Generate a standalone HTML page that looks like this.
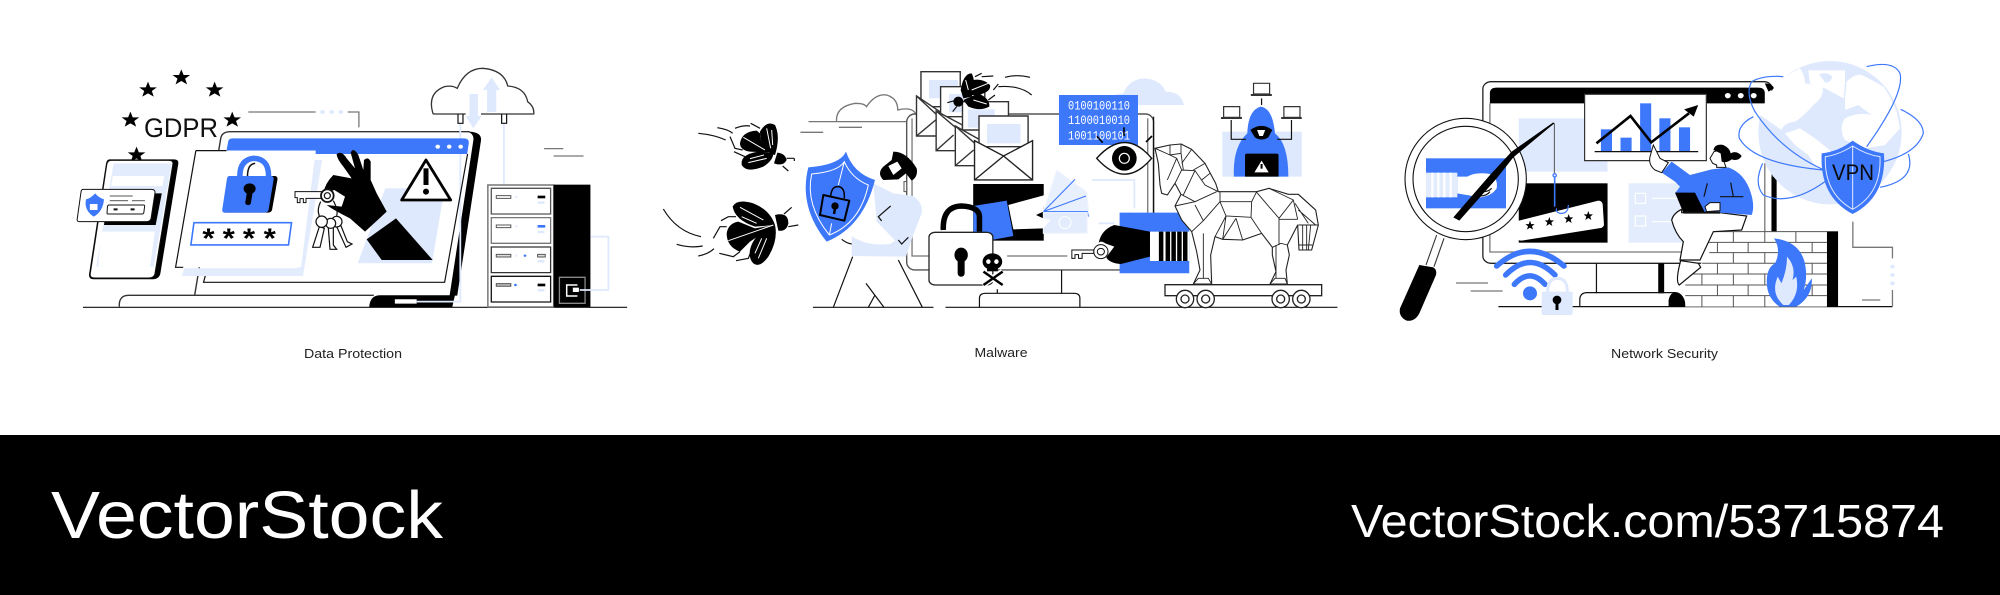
<!DOCTYPE html>
<html><head><meta charset="utf-8"><style>
html,body{margin:0;padding:0;background:#fff}
svg{display:block}
svg *{vector-effect:non-scaling-stroke}
.k{fill:none;stroke:#111;stroke-width:1.2}
.g{fill:none;stroke:#777;stroke-width:1.3}
.l{fill:none;stroke:#dfe9fd;stroke-width:1.8}
.b{fill:none;stroke:#3d78fb;stroke-width:1.2}
.w{fill:none;stroke:#fff;stroke-width:1}
.wf{fill:#fff;stroke:#111;stroke-width:1.2}
text{font-family:"Liberation Sans",sans-serif}
</style></head><body>
<svg width="2000" height="595" viewBox="0 0 2000 595" xmlns="http://www.w3.org/2000/svg">
<defs>
<polygon id="st" points="0,-25 6,-8 23,-8 10,3 15,20 0,10 -15,20 -10,3 -23,-8 -6,-8" fill="#000"/>
<clipPath id="gc"><circle cx="255" cy="233" r="215"/></clipPath>
</defs>
<rect width="2000" height="595" fill="#fff"/>

<!-- PANEL 1 -->
<g transform="translate(60,50) scale(.3827,.3333)">
<path class="k" d="M60 772H1482"/>
<use href="#st" x="317" y="83"/><use href="#st" x="230" y="120"/><use href="#st" x="404" y="120"/><use href="#st" x="184" y="210"/><use href="#st" x="450" y="210"/><use href="#st" x="200" y="315"/>
<path fill="#000" d="M130 328H298Q311 328 309 342L262 672Q258 688 240 688H90Q74 688 76 672L120 342Q122 328 130 328Z"/>
<path fill="#fff" stroke="#111" d="M133 331H285Q296 331 295 342L248 672Q245 684 232 684H90Q78 684 79 672L122 345Q124 331 133 331Z"/>
<path fill="#e3ecfd" d="M140 340H292L245 650H95Z"/>
<path fill="#fff" d="M138 378H272L268 408H134ZM108 545H248L235 650H100Z"/>
<path fill="#000" d="M125 430H266L250 525H115Z"/>
<path fill="#fff" stroke="#111" d="M60 418H238Q250 418 248 430L238 505Q236 515 225 515H50Q44 515 45 507L55 425Q56 418 60 418Z"/>
<path fill="#3d78fb" d="M92 430Q80 445 68 448Q62 480 88 500Q112 485 115 448Q100 442 92 430Z"/>
<rect x="78" y="462" width="20" height="18" fill="#fff"/>
<path class="g" d="M130 438H190M130 452H178M188 452H222"/>
<path fill="#fff" stroke="#111" d="M128 465H218Q222 465 221 470L219 488Q218 492 214 492H126Q122 492 123 488L124 470Q125 465 128 465Z"/>
<path d="M140 478H207" stroke="#111" stroke-width="2" stroke-dasharray="4 13"/>
<path d="M352 735L420 265Q423 245 445 245H1070" fill="none" stroke="#333" stroke-width="1.4"/>
<path fill="#000" d="M1070 245Q1103 247 1100 272L1038 737H1018L1080 272Q1083 252 1065 245Z"/>
<path d="M155 770Q153 736 180 736H820" fill="none" stroke="#333" stroke-width="1.4"/>
<path fill="#000" d="M808 771Q810 737 835 736H1032L1025 771Z"/>
<path fill="#fff" d="M875 748H932V761H875Z"/>
<path class="l" d="M932 755H1046V220M1160 220V405"/>
<path fill="#3d78fb" d="M435 302L440 272Q442 265 452 265H1055Q1070 265 1068 280L1064 312H668V302Z"/>
<circle cx="987" cy="290" r="6" fill="#fff"/><circle cx="1017" cy="290" r="6" fill="#fff"/><circle cx="1047" cy="290" r="6" fill="#fff"/>
<path class="k" d="M1065 312L1005 697H375L380 676"/>
<path fill="#dfe9fd" d="M850 415H1005L972 640H778Z"/>
<path fill="#e3ecfd" d="M665 330H685L635 678H318L325 655H620Z"/>
<path fill="#fff" d="M355 302H668L630 652H302Z"/>
<path class="k" d="M355 302H435M355 302L302 652H322"/>
<path d="M470 378Q470 330 505 325Q545 325 545 378" fill="none" stroke="#3d78fb" stroke-width="5.5"/>
<path d="M490 378Q490 342 510 340" fill="none" stroke="#111" stroke-width="1.5"/>
<path fill="#000" d="M445 378H560Q570 378 568 390L554 480Q552 488 542 488H430Z"/>
<path fill="#3d78fb" d="M442 378H550Q560 378 558 390L545 480Q543 488 533 488H430Q423 488 424 478L436 388Q437 378 442 378Z"/>
<path fill="#000" d="M495 400a16 16 0 0 1 8 30l-4 28a7 7 0 0 1-15 0l4-28a16 16 0 0 1 7-30Z"/>
<path fill="#fff" stroke="#3d78fb" stroke-width="1.6" d="M350 518H605L597 585H342Z"/>
<text x="388" y="593" font-size="82" font-weight="700" text-anchor="middle">*</text><text x="441" y="593" font-size="82" font-weight="700" text-anchor="middle">*</text><text x="494" y="593" font-size="82" font-weight="700" text-anchor="middle">*</text><text x="548" y="593" font-size="82" font-weight="700" text-anchor="middle">*</text>
<path d="M1128 82L1150 120H1140V186H1116V120H1105ZM1080 235L1060 198H1070V132H1092V198H1102Z" fill="#dfe9fd"/>
<path fill="none" stroke="#333" stroke-width="1.3" d="M975 192Q958 130 1005 110Q1025 105 1038 115Q1060 55 1105 55Q1160 60 1170 108Q1215 112 1222 155Q1240 170 1238 192H1100M975 192H1060"/>
<path class="k" d="M1040 192V220H1053V192M1154 192V220H1167V192"/>
<path class="g" d="M1265 296H1315M1290 318H1368M492 186H668M752 186H781V232"/>
<circle cx="686" cy="186" r="6" fill="#dfe9fd"/><circle cx="710" cy="186" r="6" fill="#dfe9fd"/><circle cx="734" cy="186" r="6" fill="#dfe9fd"/>
<rect x="1118" y="405" width="172" height="366" fill="#fff" stroke="#777" stroke-width="1.5"/>
<rect x="1290" y="404" width="96" height="367" fill="#000"/>
<rect x="1127" y="415" width="155" height="77" fill="#fff" stroke="#555" stroke-width="1.3"/>
<rect x="1127" y="503" width="155" height="77" fill="#fff" stroke="#777" stroke-width="1.3"/>
<rect x="1127" y="591" width="155" height="77" fill="#fff" stroke="#333" stroke-width="1.3"/>
<rect x="1127" y="679" width="155" height="77" fill="#fff" stroke="#111" stroke-width="1.3"/>
<rect x="1140" y="437" width="38" height="8" fill="#fff" stroke="#555"/><rect x="1140" y="525" width="38" height="8" fill="#fff" stroke="#555"/><rect x="1140" y="613" width="38" height="8" fill="#ddd" stroke="#555"/><rect x="1140" y="701" width="38" height="8" fill="#bbb" stroke="#555"/>
<rect x="1248" y="437" width="20" height="8"/><rect x="1248" y="525" width="20" height="8" fill="#3d78fb"/><rect x="1248" y="613" width="20" height="8" fill="#ddd" stroke="#555"/><rect x="1248" y="701" width="20" height="8"/>
<path d="M1248 458H1266M1248 546H1266M1248 634H1266M1248 721H1266" stroke="#dfe9fd" stroke-width="2.5"/>
<path d="M1190 441H1220M1190 529H1220M1190 617H1220M1190 705H1220" stroke="#dfe9fd" stroke-width="2" stroke-dasharray="2 10"/>
<circle cx="1215" cy="617" r="3.5" fill="#3d78fb"/><circle cx="1190" cy="705" r="3.5" fill="#3d78fb"/>
<rect x="1305" y="682" width="67" height="78" fill="none" stroke="#888" stroke-width="1.3"/>
<path d="M1352 705H1324V738H1352" fill="none" stroke="#fff" stroke-width="1.5"/>
<rect x="1340" y="713" width="16" height="13" fill="#fff"/>
<path class="l" d="M1386 560H1433V720H1358"/>
</g>
<!-- hand P1 -->
<g transform="translate(290,130) scale(.33333)">
<path fill="#000" d="M140 72Q155 60 170 85L195 115L182 68Q190 50 205 75L220 120L222 90Q235 78 242 95V150L260 190L290 245L225 305L180 265Q130 240 110 225L155 230L165 200L133 180L100 190Q105 160 130 135L185 145L160 110Q140 85 140 72Z"/>
<path fill="#000" d="M230 328L318 265L428 390H275Z"/>
<path fill="#fff" stroke="#111" d="M95 185H15V203H22V218H30V206H40V218H48V205H95Z"/>
<path class="k" d="M92 215Q80 240 88 258M130 212Q145 240 140 258"/>
<g fill="#fff" stroke="#111" stroke-width="1.2">
<path d="M140 290L168 352L186 342L172 335L152 285Z"/><circle cx="140" cy="275" r="16"/>
<path d="M115 295L120 358H140L130 345V290Z"/><circle cx="122" cy="280" r="15"/>
<path d="M88 290L68 352H90L103 295Z"/><circle cx="95" cy="275" r="17"/>
</g>
<circle cx="112" cy="197" r="19" fill="#fff" stroke="#111" stroke-width="1.8"/>
<circle cx="112" cy="197" r="9" fill="none" stroke="#111" stroke-width="1.2"/>
<path d="M408 90L482 210H335Z" fill="#fff" stroke="#000" stroke-width="2.8" stroke-linejoin="round"/>
<path d="M408 115V165" stroke="#000" stroke-width="5"/><circle cx="408" cy="185" r="9"/>
</g>

<!-- PANEL 2 -->
<g transform="translate(650,50) scale(.4464,.3333)">
<path class="k" d="M365 772H635M662 772H1540"/>
<path fill="#dfe9fd" d="M1020 165Q1020 135 1060 130Q1075 85 1110 85Q1145 90 1155 125Q1190 125 1196 165Z"/>
<path class="g" stroke-width="1" d="M418 215Q415 170 460 160Q480 160 485 170Q505 130 530 135Q555 145 555 180Q585 170 595 190M355 215H595M337 247H388M423 232H475"/>
<rect x="575" y="192" width="553" height="468" rx="18" ry="24" fill="#fff" stroke="#555" stroke-width="1.4"/>
<path class="g" d="M587 205V618H625M800 618H935M1115 205V490"/>
<path d="M1128 200V500" stroke="#111" stroke-width="1.3"/>
<path class="k" d="M922 660V730M738 772V745Q738 730 752 730H950Q963 730 963 745V772M778 718V730"/>
<g stroke="#333" stroke-width="1.4" fill="#fff">
<path d="M607 65H695V170H607Z"/><rect x="625" y="90" width="65" height="55" fill="#dfe9fd" stroke="none"/>
<path d="M597 138L655 190V258H597Z"/><path d="M597 258L640 210M597 138L655 210" fill="none"/>
<path d="M651 110H750V200H651Z"/><rect x="670" y="132" width="60" height="55" fill="#dfe9fd" stroke="none"/>
<path d="M641 183L700 225V302H641Z"/><path d="M641 302L680 255M641 183L700 250" fill="none"/>
<path d="M700 155H803V240H700Z"/><rect x="712" y="178" width="60" height="55" fill="#dfe9fd" stroke="none"/>
<path d="M684 228L740 270V347H684Z"/><path d="M684 347L725 300M684 228L740 295" fill="none"/>
<path d="M737 198H847V290H737Z"/><rect x="755" y="222" width="75" height="58" fill="#dfe9fd" stroke="none"/>
<path d="M727 272L792 318L857 272V390H727Z" stroke="#222"/><path d="M727 390L792 318L857 390" fill="none" stroke="#222"/>
</g>
<rect x="724" y="402" width="158" height="170"/>
<path fill="#3d78fb" d="M1052 488H1208V670H1052Z"/>
<rect x="1120" y="545" width="88" height="88" fill="#fff"/>
<path d="M1145 545V633M1160 545V633M1173 545V633M1186 545V633M1199 545V633" stroke="#000" stroke-width="4.5"/>
<path fill="#000" d="M1040 525L1120 545V620L1055 642Q1030 640 1022 622L1040 590L1020 580Q1008 570 1005 580Q1010 540 1040 525Z"/>
<ellipse cx="1010" cy="605" rx="16" ry="21" fill="#fff" stroke="#111"/>
<ellipse cx="1010" cy="605" rx="8" ry="10" fill="none" stroke="#111"/>
<path fill="#fff" stroke="#111" d="M994 600H945V625H952V614H960V625H968V610H994Z"/>
<path class="l" d="M990 390H1085V475M1005 520H1040"/>
<rect x="1282" y="245" width="178" height="135" fill="#dfe9fd"/>
<path fill="#3d78fb" d="M1368 170Q1395 175 1400 250Q1430 280 1430 380H1308Q1305 290 1338 250Q1340 180 1368 170Z"/>
<path fill="#000" d="M1345 240Q1370 215 1394 240L1385 262Q1370 275 1355 262Z"/>
<path fill="#fff" d="M1360 240H1378L1373 258H1365Z"/>
<path d="M1333 316Q1333 311 1338 311H1403Q1408 311 1408 316V380H1333Z"/>
<path fill="#fff" d="M1370 332L1386 367H1354Z"/>
<path d="M1370 342V356" stroke="#000" stroke-width="2"/>
<path class="k" d="M1370 165V145M1302 210V268H1335M1437 210V268H1405"/>
<g fill="#fff" stroke="#333" stroke-width="1.2">
<rect x="1352" y="100" width="36" height="32"/><rect x="1285" y="170" width="36" height="32"/><rect x="1420" y="170" width="36" height="32"/>
</g>
<path d="M1346 135H1393M1279 204H1326M1414 204H1460" stroke="#333" stroke-width="2"/>
</g>
<!-- flies, shield, person -->
<g transform="translate(660,110) scale(.33333)">
<path d="M300 65Q320 30 345 45Q362 80 345 135Q300 125 300 65Z"/>
<path d="M245 155Q250 130 300 125L340 130Q340 150 310 170Q260 190 245 165Z"/>
<path d="M240 100Q245 65 290 62L300 70Q300 110 335 128L270 125Q240 120 240 100Z"/>
<path d="M352 128Q375 130 380 150Q370 170 342 160Z"/>
<path class="w" d="M250 82L315 120M320 55L332 115M265 158L320 145M270 146L312 135M335 60L338 105"/>
<path class="k" d="M380 145L403 145M403 145V153M368 168L385 183M225 55Q250 45 270 48M272 40L300 55M210 80L225 115L248 120M222 125L255 140M115 70Q165 75 197 90M172 53Q205 58 218 70"/>
<path d="M218 290Q230 265 280 280Q330 300 345 345L285 350Q225 330 218 290Z"/>
<path d="M270 420Q280 370 345 345Q355 390 325 440Q300 475 280 460Q265 445 270 420Z"/>
<path d="M200 370Q205 340 235 335L285 355L345 345L270 395L240 425Q200 410 200 370Z"/>
<path d="M345 315Q385 305 385 340Q380 365 355 362Z"/>
<path class="w" d="M240 292L310 330M245 320L290 340M205 392L340 345M320 385L295 445M305 385L285 430"/>
<path class="k" d="M372 312L395 292M385 350L415 345M183 332L205 320L228 320M160 385L180 350L200 350M178 430L220 440L240 425M228 452L265 445L270 432M10 297Q50 365 123 380M50 403Q90 415 128 408M115 438Q145 432 162 416"/>
<path class="k" d="M578 440L520 592M715 450L787 592M618 520L672 592M645 555L625 592"/>
<path fill="#dfe9fd" d="M640 220L700 250L760 258Q790 280 785 310Q760 370 738 440L575 438V378Q620 410 690 402L706 392L650 335Z"/>
<path class="k" d="M692 288L655 320L665 333M715 390L725 402L745 382M545 388Q560 400 575 402"/>
<path d="M700 125Q740 125 770 175Q775 200 755 212L738 190L715 208L670 210Q650 190 670 170L695 150Z"/>
<path fill="#fff" d="M685 168L712 155L725 175L700 195Z"/>
<path d="M732 215V245H740V215Z" fill="#fff" stroke="#555"/>
<path fill="#3d78fb" d="M558 125Q540 165 445 172Q415 290 500 395Q610 350 645 210Q580 190 558 125Z"/>
<path class="w" d="M553 155Q535 185 455 192Q435 285 508 375Q600 340 625 225Q575 205 553 155ZM553 155L535 225M508 375L515 340"/>
<path d="M490 255L568 272L553 332L480 315Z" fill="none" stroke="#000" stroke-width="2" stroke-linejoin="round"/>
<path d="M512 258Q515 228 535 230Q555 232 553 265" fill="none" stroke="#000" stroke-width="1.5"/>
<circle cx="525" cy="288" r="11"/><path d="M525 295L522 312" stroke="#000" stroke-width="2.5"/>
</g>
<!-- binary, eye, fly3, cards -->
<g transform="translate(930,70) scale(.33333)">
<rect x="387" y="75" width="237" height="150" fill="#3d78fb"/>
<path d="M500 198L518 218M582 172V198M648 216L666 198" stroke="#000" stroke-width="1.6"/>
<path d="M500 265Q585 170 665 265Q585 360 500 265Z" fill="#fff" stroke="#111" stroke-width="1.4"/>
<circle cx="583" cy="265" r="37"/>
<circle cx="583" cy="265" r="15" fill="none" stroke="#fff" stroke-width="1.2"/>
<path d="M92 60Q100 10 125 10Q140 40 125 80L100 85Z"/>
<path d="M100 90L145 70Q180 85 178 110Q150 125 115 110Z"/>
<path d="M120 75L130 30Q160 25 180 45Q185 65 145 75Z"/>
<circle cx="85" cy="95" r="15"/>
<path class="w" d="M107 30L115 60M125 60L175 40M130 90L170 102"/>
<path class="k" d="M73 92L52 98M80 110L68 125M135 20L155 10M155 20L190 18M190 60L205 42M175 90L195 75M225 22Q260 12 300 22M205 50Q270 45 305 75"/>
<path fill="#e8effd" stroke="#f3f6fe" d="M340 425L380 300L470 365L478 440Z"/>
<path d="M340 425L435 328M340 425L468 378M340 425H472L475 440" fill="none" stroke="#3d78fb" stroke-width="1.1"/>
<path fill="#e3ecfd" stroke="#f3f6fe" d="M340 428H472V490H340Z"/>
<circle cx="405" cy="458" r="18" fill="none" stroke="#fff"/>
<path fill="#3d78fb" d="M130 408L230 392L250 498L185 510L130 490Z"/>
<path fill="#fff" d="M235 405L345 375L340 425L318 435L340 445L362 450L340 475L250 478Z"/>
</g>
<!-- lock & skull on top of the sleeve -->
<g transform="translate(650,50) scale(.4464,.3333)">
<path d="M738 545V505Q740 470 697 468Q655 470 657 540" fill="none" stroke="#000" stroke-width="5.5"/>
<rect x="625" y="547" width="143" height="158" rx="14" fill="#fff" stroke="#222" stroke-width="1.3"/>
<ellipse cx="697" cy="615" rx="15" ry="22"/><path d="M697 620V670" stroke="#000" stroke-width="7" stroke-linecap="round"/>
<path d="M745 665L790 705M790 665L745 705" stroke="#fff" stroke-width="6"/>
<path d="M747 665L790 705M790 665L747 705" stroke="#000" stroke-width="2.5"/>
<ellipse cx="767" cy="635" rx="22" ry="25"/><rect x="755" y="650" width="24" height="14"/>
<ellipse cx="758" cy="635" rx="5" ry="7" fill="#fff"/><ellipse cx="776" cy="635" rx="5" ry="7" fill="#fff"/>
</g>
<!-- horse -->
<g transform="translate(1150,130) scale(.33333)">
<path fill="#fff" stroke="#222" stroke-width="1.1" stroke-linejoin="round" d="M15 55L60 45L93 42L125 58L165 100L197 160L205 185H320L357 175L415 193H445L497 240L505 285L485 360H447L443 285L430 310L412 345L418 375L408 420L412 462H360L378 425L367 375V352L335 310L278 330L218 328L195 320L182 375L185 462H130L150 420L140 365L125 305L95 270L75 228L93 193L75 160L52 195L35 190L30 165L25 100Z"/>
<path fill="none" stroke="#222" stroke-width=".9" d="M15 55L60 75L80 85L52 150M80 85L95 120L75 160M60 45V75L93 70V42M93 70L100 120M125 58L95 100M165 100L130 120M180 130L155 150M95 120L135 122L165 165L205 185M135 122L100 195M93 193L135 215L75 228M135 215L200 185M135 225L160 272L210 215M160 272L125 305M210 185V215H305L320 185M210 215L228 258L303 262L305 215M228 258L195 320M228 258L218 328M258 265L278 330M258 265L218 328M303 262L335 310M320 187L387 265L430 210L357 175M387 265V345M387 268H443M430 210L443 268M445 193L497 240M435 220L475 280M505 285H445M487 345H447M458 285V360M470 285V360M482 285L475 360M367 352L393 340L412 345M160 310V445M130 462L145 445H175L185 462M360 462L375 445H405L412 462M378 345V445M445 240L497 285"/>
<rect x="45" y="464" width="470" height="33" fill="#fff" stroke="#222" stroke-width="1.3"/>
<g fill="#fff" stroke="#222" stroke-width="1.3">
<circle cx="105" cy="507" r="26"/><circle cx="167" cy="507" r="26"/><circle cx="392" cy="507" r="26"/><circle cx="454" cy="507" r="26"/>
<circle cx="105" cy="507" r="12"/><circle cx="167" cy="507" r="12"/><circle cx="392" cy="507" r="12"/><circle cx="454" cy="507" r="12"/>
</g>
</g>

<!-- PANEL 3 -->
<g transform="translate(1380,50) scale(.37,.3333)">
<path class="k" d="M320 770H1385"/>
<rect x="278" y="95" width="782" height="545" rx="22" fill="#fff" stroke="#222" stroke-width="1.3"/>
<path d="M1058 380H1072V545H1058Z"/>
<path class="g" d="M297 160V606H815M1040 340V545"/>
<path fill="#000" d="M297 160V130Q297 113 315 113H1022Q1040 113 1040 130V160Z"/>
<path d="M1040 100Q1060 100 1065 115L1050 125Z"/>
<circle cx="940" cy="137" r="8" fill="#fff"/><circle cx="975" cy="137" r="8" fill="#fff"/><circle cx="1010" cy="137" r="8" fill="#fff"/>
<path class="k" d="M585 640V730"/>
<rect x="752" y="640" width="16" height="90"/>
<path class="k" d="M540 770V750Q540 728 560 728H800"/>
<path d="M780 771V750Q785 725 803 727Q825 735 826 771Z"/>
<rect x="375" y="205" width="240" height="160" fill="#dfe9fd"/>
<rect x="375" y="400" width="240" height="178"/>
<rect x="672" y="400" width="160" height="178" fill="#e3ecfd"/>
<path fill="none" stroke="#fff" stroke-width="1.2" d="M690 430H718V460H690ZM690 498H718V528H690ZM735 445H810M735 515H810"/>
<rect x="553" y="133" width="329" height="199" fill="#fff" stroke="#333" stroke-width="1.2"/>
<g fill="#3d78fb"><rect x="597" y="238" width="30" height="67"/><rect x="650" y="263" width="30" height="42"/><rect x="703" y="160" width="30" height="145"/><rect x="755" y="205" width="30" height="100"/><rect x="808" y="232" width="30" height="73"/></g>
<path class="k" d="M580 305H860"/>
<path d="M585 280L677 198L733 277L835 190" fill="none" stroke="#000" stroke-width="2.6"/>
<path d="M860 165L848 200L822 178Z"/>
<path fill="#fff" d="M825 770V705L868 640L900 545H1208V770Z"/>
<path fill="none" stroke="#555" stroke-width="1" d="M900 545H1208M885 577H1208M890 608H1208M870 640H1208M840 672H1208M825 705H1208M825 737H1208M955 545V577M1040 545V577M1124 545V577M995 577V608M1082 577V608M1168 577V608M912 577V608M955 608V640M1040 608V640M1124 608V640M912 640V672M995 640V672M1082 640V672M1168 640V672M870 672V705M955 672V705M1040 672V705M1124 672V705M912 705V737M995 705V737M1082 705V737M1168 705V737M870 737V770M955 737V770M1040 737V770M1124 737V770"/>
<rect x="1208" y="544" width="30" height="227"/>
<path fill="#3d78fb" d="M1065 565Q1140 575 1150 650Q1155 690 1145 720L1167 685Q1170 740 1125 770H1080Q1040 740 1046 680Q1050 650 1068 640Q1085 600 1065 565Z"/>
<path fill="#dfe9fd" d="M1100 620Q1125 650 1115 690L1125 680Q1135 730 1105 765H1090Q1055 730 1075 680L1085 700Q1100 660 1100 620Z"/>
<path class="g" d="M1278 515V592H1385V625M1385 720V770M1303 750H1352"/>
<circle cx="1385" cy="650" r="6" fill="#dfe9fd"/><circle cx="1385" cy="675" r="6" fill="#dfe9fd"/><circle cx="1385" cy="700" r="6" fill="#dfe9fd"/>
</g>
<!-- P3 magnifier etc uniform -->
<g transform="translate(1380,110) scale(.33333)">
<path fill="#fff" d="M405 335L655 272Q665 272 668 282L672 345Q670 352 662 354L425 392Q412 392 410 382Z"/>
<g><polygon transform="translate(450,347) scale(.6)" points="0,-25 6,-8 23,-8 10,3 15,20 0,10 -15,20 -10,3 -23,-8 -6,-8"/><polygon transform="translate(508,336) scale(.6)" points="0,-25 6,-8 23,-8 10,3 15,20 0,10 -15,20 -10,3 -23,-8 -6,-8"/><polygon transform="translate(566,327) scale(.6)" points="0,-25 6,-8 23,-8 10,3 15,20 0,10 -15,20 -10,3 -23,-8 -6,-8"/><polygon transform="translate(625,318) scale(.6)" points="0,-25 6,-8 23,-8 10,3 15,20 0,10 -15,20 -10,3 -23,-8 -6,-8"/></g>
<path d="M523 40V190" stroke="#444" stroke-width=".9"/>
<path d="M524 200V290" stroke="#3d78fb" stroke-width="1.6"/>
<circle cx="524" cy="196" r="5" fill="none" stroke="#3d78fb" stroke-width="1.3"/>
<path class="b" stroke-width="1.4" d="M565 285Q565 312 540 310Q525 305 530 295"/>
<path d="M170 375L138 465M192 385L162 470" stroke="#333" stroke-width="1.1" fill="none"/>
<path d="M118 465L160 472Q172 480 168 495L118 610Q105 635 80 632Q55 620 60 595Z"/>
<circle cx="257" cy="207" r="182" fill="#fff" stroke="#111" stroke-width="1.1"/>
<circle cx="257" cy="207" r="158" fill="#fff" stroke="#111" stroke-width="1.1"/>
<rect x="138" y="145" width="240" height="150" fill="#3d78fb"/>
<rect x="138" y="188" width="94" height="74" fill="#e3ecfd"/>
<path d="M157 188V262M175 188V262M193 188V262M212 188V262" stroke="#fff" stroke-width="2.2"/>
<path fill="#fff" d="M232 200L262 200Q285 185 330 192Q355 205 350 235Q335 258 300 262L260 255L232 250Z"/>
<path d="M310 245Q325 245 335 235M300 258Q320 258 330 245" class="k" stroke-width=".8"/>
<path d="M220 322L238 332L350 205L400 142L523 40L520 37L395 125L330 195Z"/>
<g fill="none" stroke="#3d78fb" stroke-width="5.5" stroke-linecap="round">
<path d="M350 468Q450 380 552 468"/><path d="M377 495Q450 420 525 495"/><path d="M403 523Q450 472 495 523"/>
</g>
<circle cx="450" cy="550" r="21" fill="#3d78fb"/>
<path d="M503 545Q503 505 532 505Q562 505 562 545" fill="none" stroke="#dfe9fd" stroke-width="3"/>
<rect x="485" y="545" width="93" height="70" rx="5" fill="#dfe9fd"/>
<circle cx="531" cy="570" r="13"/><path d="M531 572V600" stroke="#000" stroke-width="3"/>
<path class="g" d="M228 519H324M272 543H368"/>
</g>
<!-- globe & land -->
<g transform="translate(1745,55) scale(.33333)">
<circle cx="255" cy="233" r="215" fill="#dfe9fd"/>
<g clip-path="url(#gc)" fill="#fff">
<path d="M165 40Q180 60 180 85L232 92Q240 125 205 150Q175 185 150 200Q115 205 110 225L45 180Q60 90 165 40Z"/>
<path d="M305 80Q330 55 350 60L380 75L415 95Q440 130 455 170L465 220L420 270L360 280L300 255Q280 220 300 190Q340 170 380 180L340 150L300 165L300 130Z"/>
<path d="M120 235L165 220L210 250L260 290L250 340L215 340L190 300L150 270Z"/>
<path d="M190 46H300V80L296 130L240 100L195 85Z"/>
</g>
<path fill="#dfe9fd" d="M222 58Q245 48 262 65Q258 85 240 82Z"/>
</g>
<g transform="translate(1640,50) scale(.33333)">
<g fill="none" stroke="#3d78fb" stroke-width="1.2">
<path d="M430 80Q370 75 335 95Q315 130 345 185Q420 300 548 358"/>
<path d="M680 50Q760 30 780 70Q795 130 680 290"/>
<path d="M340 200Q290 225 298 265Q340 340 548 360"/>
<path d="M782 178Q850 210 850 250Q830 310 730 335"/>
<path d="M368 340Q340 400 370 435Q450 470 555 395"/>
<path d="M805 312Q830 390 720 412"/>
</g>
<path fill="#3d78fb" d="M638 272Q685 305 732 310Q740 440 638 492Q538 440 545 310Q595 305 638 272Z"/>
<path fill="none" stroke="#dfe9fd" stroke-width="1" d="M638 288Q680 315 720 320Q725 430 638 478Q552 430 556 320Q595 315 638 288ZM638 288V478"/>
<path class="wf" d="M125 478Q100 490 95 510Q105 550 130 575L120 630H180L220 545L305 540L320 498L240 488H125Z"/>
<path class="wf" d="M122 632L175 640L182 652L118 705Q105 695 122 632Z"/>
<path fill="#3d78fb" d="M65 368L95 335L150 375L215 358L265 352Q315 370 333 430Q345 470 335 495L240 488H190L160 430H105L120 410L105 395Z"/>
<path fill="#fff" stroke="#111" d="M30 320L40 285L60 325L85 338L65 368L45 360Q25 345 30 320Z"/>
<path class="k" d="M202 400L192 440M272 398L280 440M240 440H310"/>
<path fill="#fff" stroke="#111" d="M222 305L210 325L218 340L230 345V352H258L240 300Z"/>
<path d="M220 300Q225 280 250 285Q270 295 272 310Q290 300 305 318Q295 335 275 328Q260 340 245 335L242 310Z"/>
<path d="M105 428H165L195 488H130Z"/>
<path d="M130 488H240" stroke="#111" stroke-width="2"/>
<path fill="#fff" stroke="#111" d="M195 470L210 458H240V482L200 485Z"/>
</g>

<!-- TEXT -->
<text x="144" y="137" font-size="27" textLength="74" lengthAdjust="spacingAndGlyphs" fill="#111">GDPR</text>
<text x="304" y="358" font-size="13" textLength="98" lengthAdjust="spacingAndGlyphs" fill="#222">Data Protection</text>
<text x="974.5" y="357" font-size="13" textLength="53" lengthAdjust="spacingAndGlyphs" fill="#222">Malware</text>
<text x="1611" y="358" font-size="13" textLength="107" lengthAdjust="spacingAndGlyphs" fill="#222">Network Security</text>
<text x="1068" y="109.500" font-size="13" fill="#fff" textLength="62" lengthAdjust="spacingAndGlyphs" style="font-family:'Liberation Mono',monospace">0100100110</text>
<text x="1068" y="124" font-size="13" fill="#fff" textLength="62" lengthAdjust="spacingAndGlyphs" style="font-family:'Liberation Mono',monospace">1100010010</text>
<text x="1068" y="139.500" font-size="13" fill="#fff" textLength="62" lengthAdjust="spacingAndGlyphs" style="font-family:'Liberation Mono',monospace">1001100101</text>
<text x="1832" y="180" font-size="22" textLength="42" lengthAdjust="spacingAndGlyphs" fill="#0a0a0a">VPN</text>

<!-- BAND -->
<rect x="0" y="435" width="2000" height="160" fill="#000"/>
<text x="51" y="538" font-size="67" fill="#fff" textLength="392" lengthAdjust="spacingAndGlyphs">VectorStock</text>
<text x="1351" y="537" font-size="46" fill="#fff" textLength="593" lengthAdjust="spacingAndGlyphs">VectorStock.com/53715874</text>
</svg>
</body></html>
